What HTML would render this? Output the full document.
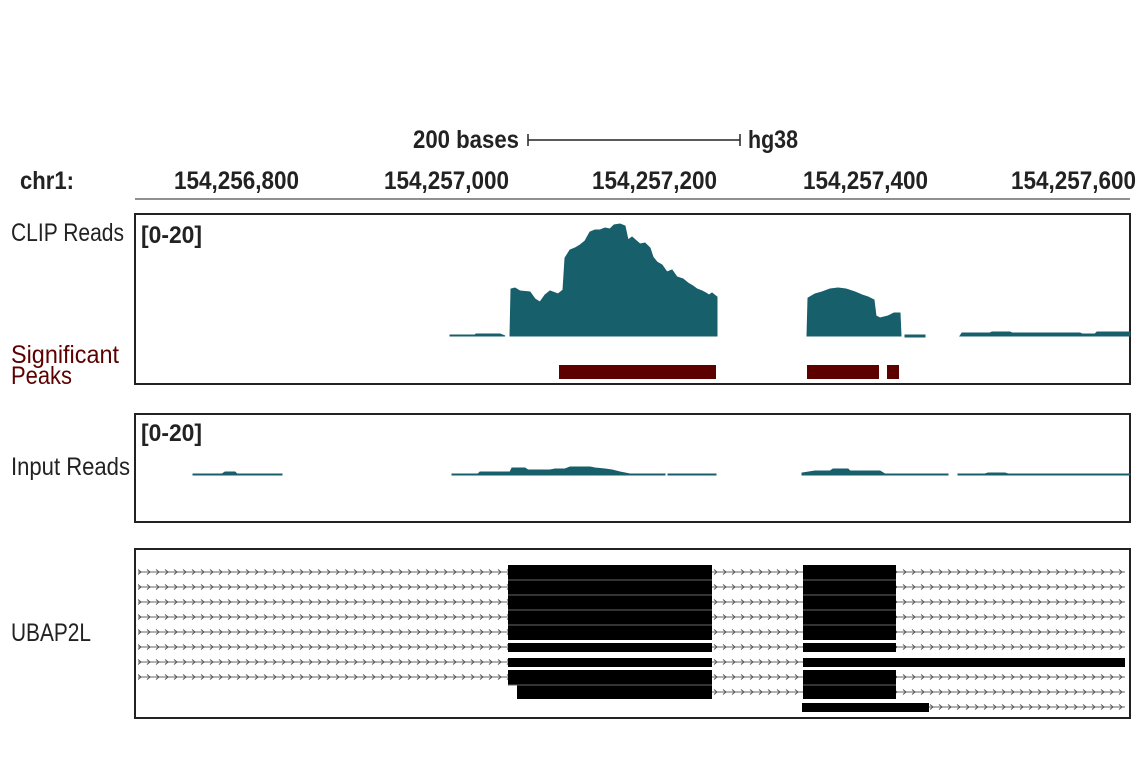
<!DOCTYPE html>
<html><head><style>
body{margin:0;background:#fff;}
svg text{font-family:"Liberation Sans Narrow","Liberation Sans",sans-serif;}
</style></head><body>
<svg width="1141" height="768" viewBox="0 0 1141 768" xmlns="http://www.w3.org/2000/svg">
<defs>
<pattern id="arr" x="0" y="569" width="9" height="15" patternUnits="userSpaceOnUse">
<line x1="0" y1="3" x2="9" y2="3" stroke="#666" stroke-width="1"/>
<polyline points="3,0.5 6,3 3,5.5" fill="none" stroke="#555" stroke-width="1"/>
</pattern>
</defs>
<g font-size="25" font-weight="bold" fill="#222" lengthAdjust="spacingAndGlyphs">
<text x="413" y="148" textLength="106" lengthAdjust="spacingAndGlyphs">200 bases</text>
<text x="748" y="148" textLength="50" lengthAdjust="spacingAndGlyphs">hg38</text>
<text x="20" y="189" textLength="54" lengthAdjust="spacingAndGlyphs">chr1:</text>
<text x="174" y="189" textLength="125" lengthAdjust="spacingAndGlyphs">154,256,800</text>
<text x="384" y="189" textLength="125" lengthAdjust="spacingAndGlyphs">154,257,000</text>
<text x="592" y="189" textLength="125" lengthAdjust="spacingAndGlyphs">154,257,200</text>
<text x="803" y="189" textLength="125" lengthAdjust="spacingAndGlyphs">154,257,400</text>
<text x="1011" y="189" textLength="125" lengthAdjust="spacingAndGlyphs">154,257,600</text>
</g>
<g stroke="#222" stroke-width="1.5">
<line x1="528" y1="140" x2="740" y2="140"/><line x1="528" y1="134" x2="528" y2="146"/><line x1="740" y1="134" x2="740" y2="146"/>
<line x1="135" y1="199" x2="1130" y2="199" stroke-width="1"/>
</g>
<g font-size="25" fill="#222">
<text x="11" y="241" textLength="113" lengthAdjust="spacingAndGlyphs">CLIP Reads</text>
<text x="11" y="475" textLength="119" lengthAdjust="spacingAndGlyphs">Input Reads</text>
<text x="11" y="641" textLength="80" lengthAdjust="spacingAndGlyphs">UBAP2L</text>
</g>
<g font-size="25" fill="#5c0000">
<text x="11" y="363" textLength="108" lengthAdjust="spacingAndGlyphs">Significant</text>
<text x="11" y="384" textLength="61" lengthAdjust="spacingAndGlyphs">Peaks</text>
</g>
<rect x="135" y="214" width="995" height="170" fill="none" stroke="#222" stroke-width="2"/>
<rect x="135" y="414" width="995" height="108" fill="none" stroke="#222" stroke-width="2"/>
<rect x="135" y="549" width="995" height="169" fill="none" stroke="#222" stroke-width="2"/>
<g font-size="24" font-weight="bold" fill="#222">
<text x="141" y="243" textLength="61" lengthAdjust="spacingAndGlyphs">[0-20]</text>
<text x="141" y="441" textLength="61" lengthAdjust="spacingAndGlyphs">[0-20]</text>
</g>
<g fill="#175f6b" stroke="#175f6b" stroke-width="1">
<path d="M450,336 L450,335 L475,335 L476,334 L500,334 L505,336 Z"/>
<path d="M510,336 L511,289 L515,288 L520,291 L530,292 L535,299 L540,302 L545,295 L550,291 L558,294 L563,290 L565,258 L570,250 L575,248 L580,245 L585,241 L590,232 L595,230 L600,230 L605,228 L610,229 L614,225 L620,224 L625,226 L628,240 L632,237 L640,244 L645,243 L650,248 L653,257 L657,262 L662,265 L667,272 L672,270 L677,277 L683,279 L688,283 L693,286 L697,289 L702,291 L706,293 L709,295 L712,293 L717,297 L717,336 Z"/>
<path d="M807,336 L808,298 L815,294 L822,292 L830,289 L838,288 L846,289 L855,292 L862,295 L868,297 L874,300 L876,316 L880,318 L888,316 L894,313 L900,313 L901,336 Z"/>
<path d="M905,337 L905,335 L925,335 L925,337 Z"/>
<path d="M960,336 L962,333 L990,333 L992,332 L1010,332 L1012,333 L1080,333 L1082,334 L1095,334 L1097,332 L1130,332 L1130,336 Z"/>
<path d="M193,475 L193,474 L222,474 L225,472 L235,472 L237,474 L282,474 L282,475 Z"/>
<path d="M452,475 L452,474 L478,474 L480,472 L510,472 L512,468 L525,468 L528,470 L550,470 L555,469 L565,469 L570,467 L590,467 L595,468 L605,469 L612,470 L620,472 L630,474 L665,474 L665,475 Z"/>
<path d="M668,475 L668,474 L716,474 L716,475 Z"/>
<path d="M802,475 L802,473 L815,471 L830,471 L833,469 L848,469 L850,471 L880,471 L885,474 L910,474 L948,474 L948,475 Z"/>
<path d="M958,475 L958,474 L985,474 L988,473 L1005,473 L1008,474 L1130,474 L1130,475 Z"/>
</g>
<g fill="#5c0000">
<rect x="559" y="365" width="157" height="14"/>
<rect x="807" y="365" width="72" height="14"/>
<rect x="887" y="365" width="12" height="14"/>
</g>
<g>
<rect x="138" y="569" width="987" height="6" fill="url(#arr)"/>
<rect x="138" y="584" width="987" height="6" fill="url(#arr)"/>
<rect x="138" y="599" width="987" height="6" fill="url(#arr)"/>
<rect x="138" y="614" width="987" height="6" fill="url(#arr)"/>
<rect x="138" y="629" width="987" height="6" fill="url(#arr)"/>
<rect x="138" y="644" width="987" height="6" fill="url(#arr)"/>
<rect x="138" y="659" width="665" height="6" fill="url(#arr)"/>
<rect x="138" y="674" width="987" height="6" fill="url(#arr)"/>
<rect x="712" y="689" width="413" height="6" fill="url(#arr)"/>
<rect x="929" y="704" width="196" height="6" fill="url(#arr)"/>
</g>
<g fill="#000">
<rect x="508" y="565" width="204" height="75"/>
<rect x="803" y="565" width="93" height="75"/>
<rect x="508" y="643" width="204" height="9"/>
<rect x="803" y="643" width="93" height="9"/>
<rect x="508" y="658" width="204" height="9"/>
<rect x="803" y="658" width="322" height="9"/>
<rect x="508" y="670" width="204" height="29"/>
<rect x="803" y="670" width="93" height="29"/>
<rect x="802" y="703" width="127" height="9"/>
</g>
<rect x="508" y="685" width="9" height="15" fill="#fff"/>
<g stroke="#666" stroke-width="1">
<line x1="508" y1="580" x2="712" y2="580"/><line x1="508" y1="595" x2="712" y2="595"/><line x1="508" y1="610" x2="712" y2="610"/><line x1="508" y1="625" x2="712" y2="625"/><line x1="508" y1="685" x2="712" y2="685"/>
<line x1="803" y1="580" x2="896" y2="580"/><line x1="803" y1="595" x2="896" y2="595"/><line x1="803" y1="610" x2="896" y2="610"/><line x1="803" y1="625" x2="896" y2="625"/><line x1="803" y1="685" x2="896" y2="685"/>
</g>
</svg>
</body></html>
